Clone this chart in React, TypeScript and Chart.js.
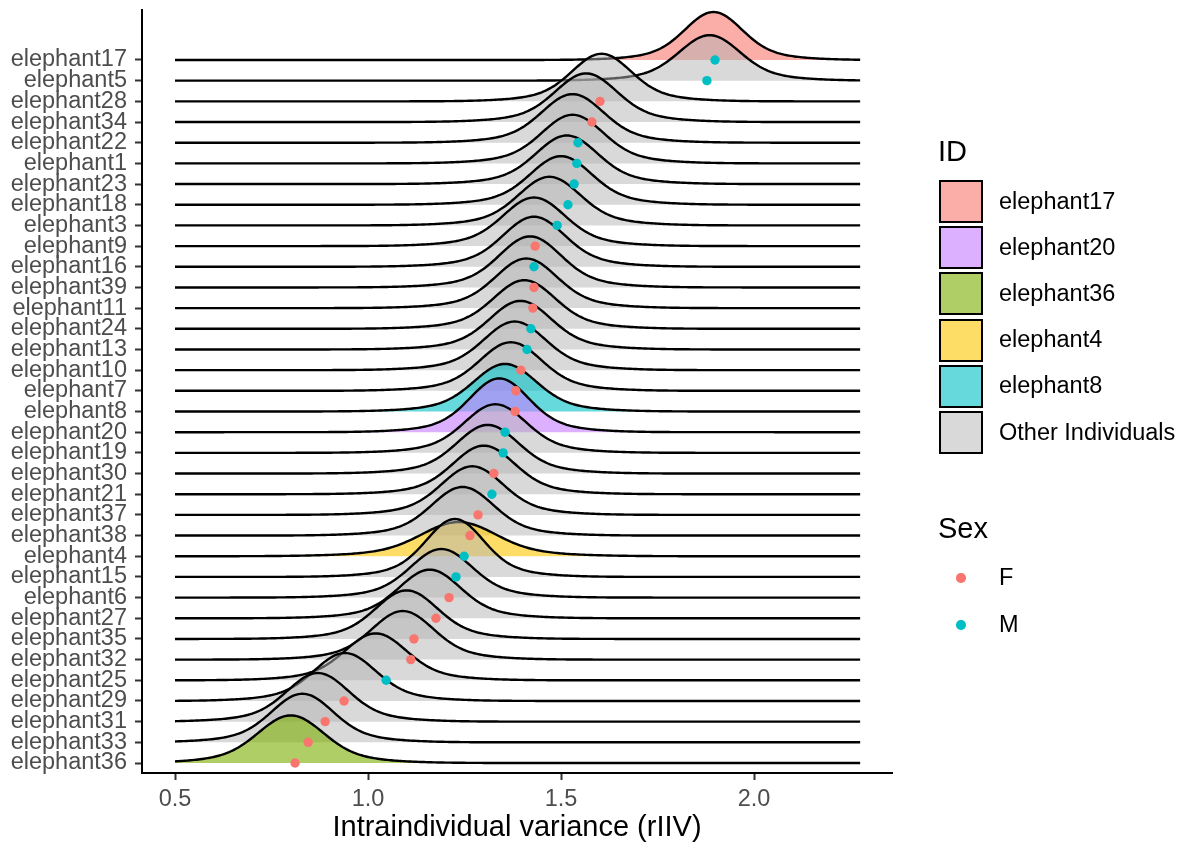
import React, { useEffect, useRef } from "react";
import { Chart, registerables } from "chart.js";

Chart.register(...registerables);

// rows from top to bottom, as on the y axis
const ids = [
  "elephant17", "elephant5", "elephant28", "elephant34", "elephant22", "elephant1", "elephant23",
  "elephant18", "elephant3", "elephant9", "elephant16", "elephant39", "elephant11", "elephant24",
  "elephant13", "elephant10", "elephant7", "elephant8", "elephant20", "elephant19", "elephant30",
  "elephant21", "elephant37", "elephant38", "elephant4", "elephant15", "elephant6", "elephant27",
  "elephant35", "elephant32", "elephant25", "elephant29", "elephant31", "elephant33", "elephant36",
];
const sexes = [
  "M", "M", "F", "F", "M", "M", "M", "M", "M", "F", "M", "F", "F", "M", "M", "F", "F", "F",
  "M", "M", "F", "M", "F", "F", "M", "M", "F", "F", "F", "F", "M", "F", "F", "F", "F",
];
// mean rIIV per individual (the dots)
const means = [
  1.899, 1.878, 1.601, 1.58, 1.544, 1.541, 1.534, 1.518, 1.49, 1.433, 1.43, 1.43, 1.427, 1.422,
  1.412, 1.396, 1.383, 1.381, 1.355, 1.35, 1.326, 1.321, 1.285, 1.264, 1.249, 1.228, 1.21, 1.176,
  1.119, 1.111, 1.047, 0.938, 0.889, 0.845, 0.811,
];
// where each ridge peaks
const modes = [
  1.895, 1.885, 1.605, 1.565, 1.53, 1.53, 1.515, 1.5, 1.47, 1.43, 1.43, 1.42, 1.41, 1.405,
  1.395, 1.38, 1.37, 1.355, 1.34, 1.33, 1.31, 1.3, 1.27, 1.245, 1.235, 1.225, 1.19, 1.16,
  1.1, 1.09, 1.02, 0.94, 0.87, 0.83, 0.8,
];
// ridge spread (core width; tails are twice as wide)
const spreads = [
  0.07, 0.074, 0.072, 0.075, 0.075, 0.075, 0.075, 0.075, 0.075, 0.075, 0.075, 0.075, 0.075, 0.075,
  0.075, 0.075, 0.075, 0.076, 0.072, 0.075, 0.075, 0.075, 0.075, 0.075, 0.092, 0.07, 0.075, 0.075,
  0.075, 0.075, 0.075, 0.075, 0.075, 0.075, 0.08,
];
// ridge peak height, in rows
const heights = [
  2.32, 2.2, 2.3, 2.35, 2.35, 2.35, 2.35, 2.35, 2.35, 2.35, 2.42, 2.47, 2.4, 2.35,
  2.35, 2.35, 2.35, 2.3, 2.6, 2.35, 2.35, 2.35, 2.35, 2.35, 1.65, 2.8, 2.35, 2.35,
  2.35, 2.35, 2.27, 2.32, 2.35, 2.35, 2.3,
];

const highlighted = ["elephant17", "elephant20", "elephant36", "elephant4", "elephant8"];
const highlightFill = [
  "rgba(248,118,109,0.6)",
  "rgba(199,124,255,0.6)",
  "rgba(124,174,0,0.6)",
  "rgba(253,198,0,0.6)",
  "rgba(0,191,196,0.6)",
];
const otherFill = "rgba(179,179,179,0.5)";
const sexColors: Record<string, string> = { F: "#F8766D", M: "#00BFC4" };

const xTicks = [0.5, 1.0, 1.5, 2.0];
const densityFrom = 0.5;
const densityTo = 2.275;

const FONT = "'Liberation Sans', Arial, Helvetica, sans-serif";

// ridge profile: narrow core plus a wider tail, 1 at the mode
function ridgeShape(t: number, s: number) {
  const core = Math.exp(-(t * t) / (2 * s * s));
  const tail = Math.exp(-(t * t) / (8 * s * s));
  return 0.8 * core + 0.2 * tail;
}

export default function App() {
  const canvasRef = useRef<HTMLCanvasElement>(null);

  useEffect(() => {
    if (!canvasRef.current) return;
    Chart.defaults.font.family = FONT;
    const n = ids.length;
    const rowOf = (i: number) => n - 1 - i;

    const grid: number[] = [];
    for (let x = densityFrom; x <= densityTo + 1e-9; x += 0.005) grid.push(x);

    const ridges = ids.map((id, i) => {
      const row = rowOf(i);
      const hi = highlighted.indexOf(id);
      return {
        type: "line" as const,
        label: id,
        data: grid.map((x) => ({
          x,
          y: row + heights[i] * ridgeShape(x - modes[i], spreads[i]),
        })),
        borderColor: "#000000",
        borderWidth: 2.4,
        backgroundColor: hi >= 0 ? highlightFill[hi] : otherFill,
        fill: { value: row },
        pointRadius: 0,
        tension: 0,
        order: row + 1,
      };
    });

    const dots = {
      type: "line" as const,
      label: "Sex",
      data: ids.map((_, i) => ({ x: means[i], y: rowOf(i) })),
      showLine: false,
      pointRadius: 4.7,
      pointBorderWidth: 0,
      pointBackgroundColor: sexes.map((s) => sexColors[s]),
      pointBorderColor: sexes.map((s) => sexColors[s]),
      order: 0,
    };

    const chart = new Chart(canvasRef.current, {
      type: "line",
      data: { datasets: [...ridges, dots] as any },
      options: {
        animation: false,
        responsive: true,
        maintainAspectRatio: false,
        layout: { padding: { top: 10, right: 292, left: 0, bottom: 0 } },
        plugins: { legend: { display: false }, tooltip: { enabled: false } },
        scales: {
          x: {
            type: "linear",
            min: 0.4145,
            max: 2.3575,
            afterBuildTicks: (scale: any) => {
              scale.ticks = xTicks.map((v) => ({ value: v }));
            },
            afterFit: (scale: any) => {
              scale.height = 72;
              scale.paddingLeft = 0;
              scale.paddingRight = 0;
            },
            grid: {
              display: true,
              drawOnChartArea: false,
              drawTicks: true,
              tickLength: 7,
              tickColor: "#333333",
              tickWidth: 2,
            },
            border: { display: true, color: "#000000", width: 2 },
            ticks: {
              color: "#4D4D4D",
              font: { size: 23.5 },
              padding: 5,
              maxRotation: 0,
              autoSkip: false,
              callback: (v: any) => Number(v).toFixed(1),
            },
            title: {
              display: true,
              text: "Intraindividual variance (rIIV)",
              color: "#000000",
              font: { size: 29 },
              padding: { top: 0, bottom: 0 },
            },
          },
          y: {
            type: "linear",
            min: -0.4836,
            max: 36.418,
            afterBuildTicks: (scale: any) => {
              scale.ticks = ids.map((_, i) => ({ value: rowOf(i) }));
            },
            afterFit: (scale: any) => {
              scale.width = 142;
              scale.paddingTop = 0;
              scale.paddingBottom = 0;
            },
            grid: {
              display: true,
              drawOnChartArea: false,
              drawTicks: true,
              tickLength: 7,
              tickColor: "#333333",
              tickWidth: 2,
            },
            border: { display: true, color: "#000000", width: 2 },
            ticks: {
              color: "#4D4D4D",
              font: { size: 23.5 },
              padding: 8,
              autoSkip: false,
              callback: (v: any) => ids[n - 1 - Math.round(Number(v))],
            },
          },
        },
      },
    });

    return () => chart.destroy();
  }, []);

  const keyTop = 180;
  const keyPitch = 46.2;
  const legendText: React.CSSProperties = {
    position: "absolute",
    left: 999,
    fontSize: 23.5,
    lineHeight: "23.5px",
    color: "#000",
    whiteSpace: "nowrap",
  };

  return (
    <div
      style={{
        position: "absolute",
        left: 0,
        top: 0,
        width: 1184,
        height: 845,
        background: "#ffffff",
        fontFamily: FONT,
      }}
    >
      <canvas ref={canvasRef} />
      <div style={{ position: "absolute", left: 938, top: 137, fontSize: 29, lineHeight: "29px" }}>
        ID
      </div>
      {[...highlighted, "Other Individuals"].map((name, i) => {
        const top = keyTop + i * keyPitch;
        return (
          <React.Fragment key={name}>
            <div
              style={{
                position: "absolute",
                left: 939,
                top,
                width: 44,
                height: 43,
                boxSizing: "border-box",
                border: "2.5px solid #000",
                background: i < highlightFill.length ? highlightFill[i] : otherFill,
              }}
            />
            <div style={{ ...legendText, top: top + 21.5 - 12 }}>{name}</div>
          </React.Fragment>
        );
      })}
      <div style={{ position: "absolute", left: 938, top: 514, fontSize: 29, lineHeight: "29px" }}>
        Sex
      </div>
      {["F", "M"].map((s, i) => {
        const cy = 578 + i * 47;
        return (
          <React.Fragment key={s}>
            <div
              style={{
                position: "absolute",
                left: 961 - 4.7,
                top: cy - 4.7,
                width: 9.4,
                height: 9.4,
                borderRadius: "50%",
                background: sexColors[s],
              }}
            />
            <div style={{ ...legendText, top: cy - 12 }}>{s}</div>
          </React.Fragment>
        );
      })}
    </div>
  );
}
